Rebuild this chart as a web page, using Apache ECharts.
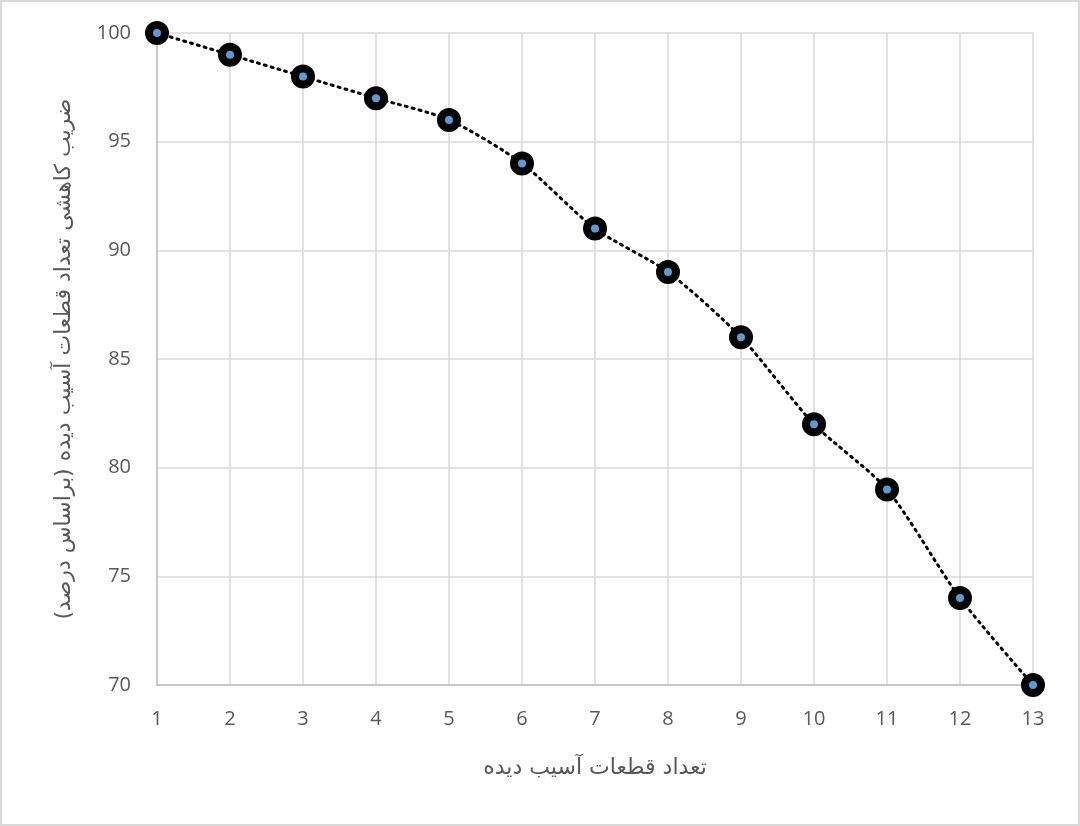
<!DOCTYPE html>
<html><head><meta charset="utf-8">
<script src="https://cdn.jsdelivr.net/npm/echarts@6/dist/echarts.min.js"></script>
<style>
html,body{margin:0;padding:0;background:#fff;}
#c{position:absolute;left:0;top:0;width:1076px;height:822px;border:2px solid #d9d9d9;}
</style></head>
<body><div id="c"></div>
<script>
const categories = ['1','2','3','4','5','6','7','8','9','10','11','12','13'];
const values = [100, 99, 98, 97, 96, 94, 91, 89, 86, 82, 79, 74, 70];
const xTitle = 'تعداد قطعات آسیب دیده';
const yTitle = 'ضریب کاهشی تعداد قطعات آسیب دیده (براساس درصد)';

const chart = echarts.init(document.getElementById('c'));
chart.setOption({
  animation: false,
  grid: {left: 155, right: 45, top: 31, bottom: 139},
  xAxis: {
    type: 'category', data: categories, boundaryGap: false,
    name: xTitle, nameLocation: 'middle', nameGap: 72,
    nameTextStyle: {fontFamily: 'DejaVu Sans', fontSize: 22, color: '#595959'},
    axisLine: {lineStyle: {color: '#bfbfbf', width: 1.5}},
    axisTick: {show: false},
    axisLabel: {fontFamily: 'Open Sans', fontSize: 20, color: '#595959', margin: 24},
    splitLine: {show: true, lineStyle: {color: '#d9d9d9', width: 1.5}}
  },
  yAxis: {
    type: 'value', min: 70, max: 100, interval: 5,
    name: yTitle, nameLocation: 'middle', nameGap: 82, nameRotate: 90,
    nameTextStyle: {fontFamily: 'DejaVu Sans', fontSize: 22, color: '#595959'},
    axisLine: {show: true, lineStyle: {color: '#bfbfbf', width: 1.5}},
    axisTick: {show: false},
    axisLabel: {fontFamily: 'Open Sans', fontSize: 20, color: '#595959', margin: 26},
    splitLine: {show: true, lineStyle: {color: '#d9d9d9', width: 1.5}}
  },
  series: [{
    type: 'line', data: values, smooth: 0.25,
    lineStyle: {color: '#000', width: 3, type: [2, 5], cap: 'round'},
    symbol: 'circle', symbolSize: 16,
    itemStyle: {color: '#5b9bd5', borderColor: '#000', borderWidth: 8}
  }]
});
</script></body></html>
